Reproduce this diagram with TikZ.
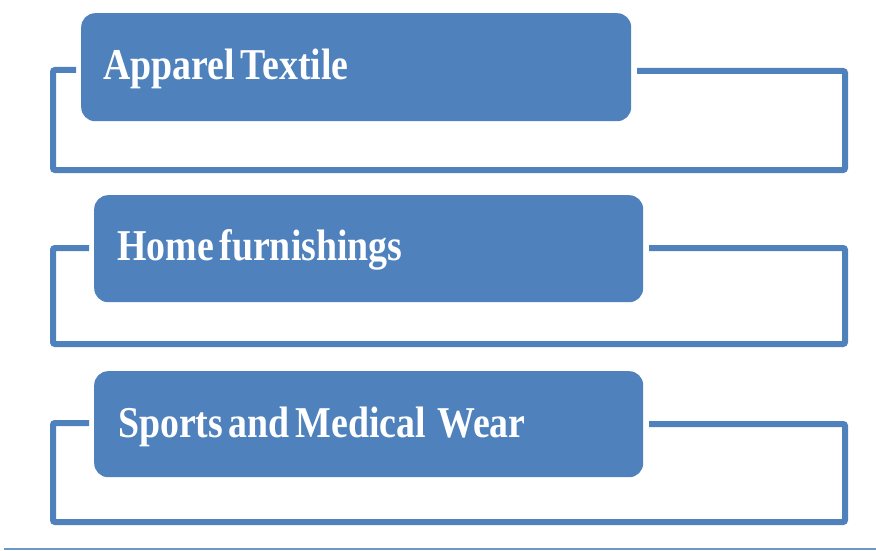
\documentclass[tikz,border=0pt]{standalone}
\usepackage{fontspec}
\newfontfamily\boxfont{Liberation Serif}[FakeStretch=0.86, WordSpace=0.6]
\definecolor{officeblue}{RGB}{79,129,189}
\definecolor{rulebl}{RGB}{110,150,200}
\tikzset{
  itembox/.style={draw=none, fill=officeblue, rounded corners=14pt, anchor=north west, inner sep=0pt},
  itemtext/.style={anchor=base west, inner sep=0pt, text=white, font=\boxfont\bfseries\fontsize{44}{50}\selectfont},
  frameline/.style={draw=officeblue, line width=6pt, rounded corners=2pt, line cap=butt},
}
\begin{document}
\begin{tikzpicture}[x=1pt, y=-1pt]
\useasboundingbox (0,0) rectangle (876,551);
% boxes
\node[itembox, minimum width=550pt, minimum height=108pt] (b1) at (81,13) {};
\node[itembox, minimum width=549pt, minimum height=107pt] (b2) at (94,195) {};
\node[itembox, minimum width=549pt, minimum height=106pt] (b3) at (94,371) {};
% texts
\node[itemtext] (t1) at (103,80) {Apparel Textile};
\node[itemtext] (t2) at (117,260) {Home furnishings};
\node[itemtext] (t3) at (118,437) {Sports and Medical~~Wear};
% frame coordinates
\coordinate (l1) at (76,70);  \coordinate (r1) at (637,71);
\coordinate (l2) at (89,248); \coordinate (r2) at (649,248);
\coordinate (l3) at (89,423); \coordinate (r3) at (649,424);
\draw[frameline] (l1) -- (53,70) -- (53,170) -- (845,170) -- (845,71) -- (r1);
\draw[frameline] (l2) -- (53,248) -- (53,344) -- (845,344) -- (845,248) -- (r2);
\draw[frameline] (l3) -- (53,423) -- (53,522) -- (845,522) -- (845,424) -- (r3);
% bottom rule
\coordinate (ra) at (4,549); \coordinate (rb) at (876,549);
\draw[draw=rulebl, line width=2pt] (ra) -- (rb);
\end{tikzpicture}
\end{document}
